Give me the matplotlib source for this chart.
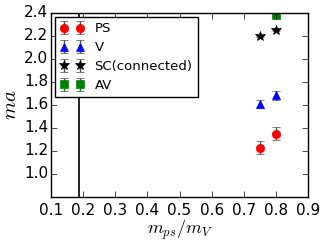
import numpy as np
import matplotlib
matplotlib.use('Agg')
import matplotlib.pyplot as plt

plt.style.use('classic')

# data
ps_x = [0.75, 0.80]
ps_y = [1.23, 1.35]
ps_err = [0.055, 0.055]

v_x = [0.75, 0.80]
v_y = [1.61, 1.685]
v_err = [0.035, 0.04]

sc_x = [0.75, 0.80]
sc_y = [2.20, 2.255]
sc_err = [0.01, 0.01]

av_x = [0.80]
av_y = [2.385]
av_err = [0.015]

phys_line = 0.188

fig = plt.figure(figsize=(3.27, 2.45), dpi=100, facecolor='white')
ax = fig.add_axes([0.156, 0.196, 0.786, 0.751])

ax.errorbar(ps_x, ps_y, yerr=ps_err, fmt='o', color='red', ecolor='0.3', ms=6, mec='red', label='PS')
ax.errorbar(v_x, v_y, yerr=v_err, fmt='^', color='blue', ecolor='0.3', ms=6, mec='blue', label='V')
ax.errorbar(sc_x, sc_y, yerr=sc_err, fmt='*', color='black', ecolor='0.3', ms=7, mec='black', label='SC(connected)')
ax.errorbar(av_x, av_y, yerr=av_err, fmt='s', color='green', ecolor='0.3', ms=6, mec='green', label='AV')
ax.axvline(phys_line, color='black', lw=1.2)

ax.set_xlim(0.1, 0.9)
ax.set_ylim(0.8, 2.4)
ax.set_yticks(np.arange(1.0, 2.41, 0.2))
ax.set_xticks(np.arange(0.1, 0.91, 0.1))
ax.tick_params(labelsize=11)
ax.tick_params(axis='y', pad=2)
ax.set_xlabel(r'$m_{ps}/m_V$', fontsize=13, labelpad=1)
ax.set_ylabel(r'$ma$', fontsize=15, labelpad=3)
ax.legend(loc='upper left', numpoints=2, fontsize=9.5, fancybox=False,
          borderaxespad=0.3, labelspacing=0.45, handlelength=1.8)

fig.savefig('out.png', dpi=100, facecolor='white')
